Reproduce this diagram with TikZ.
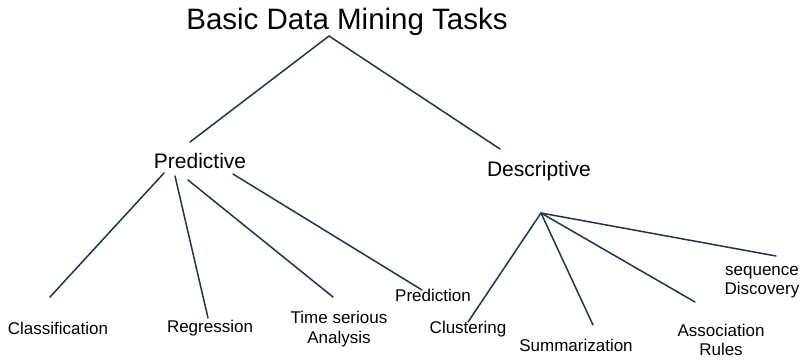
\documentclass[tikz,border=0pt]{standalone}
\usepackage{fontspec}
\setmainfont{Liberation Sans}
\usepackage{xcolor}
\usepackage{tikz}
\definecolor{linenavy}{RGB}{32, 52, 78}

\begin{document}
\begin{tikzpicture}[x=1pt, y=-1pt,
        task/.style = {inner sep=0pt, align=center, font=\fontsize{17}{19.5}\selectfont},
        branch/.style = {color=linenavy, line width=1.5pt, line cap=round}]
        \useasboundingbox (0,0) rectangle (802,360);
        % root and the two groups
        \node[inner sep=0pt, font=\fontsize{29.5}{32}\selectfont] (tasks) at (347, 22) {Basic Data Mining Tasks};
        \node[inner sep=0pt, font=\fontsize{21}{24}\selectfont] (pred) at (200, 161) {Predictive};
        \node[inner sep=0pt, font=\fontsize{21}{24}\selectfont] (desc) at (539, 171) {Descriptive};
        % leaves
        \node[task] (class) at (58, 328) {Classification};
        \node[task] (regr) at (210, 328) {Regression};
        \node[task] (timeser) at (339, 329) {Time serious\\Analysis};
        \node[task] (predict) at (433, 295) {Prediction};
        \node[task] (clust) at (468, 329) {Clustering};
        \node[task] (summ) at (576, 345) {Summarization};
        \node[task] (assoc) at (721, 340) {Association\\Rules};
        \node[task] (seqdisc) at (762, 282) {sequence\\Discovery};
        % line ends
        \coordinate (tasks-foot) at (329, 36);
        \coordinate (pred-head) at (190, 142);
        \coordinate (desc-head) at (500, 149);
        \coordinate (pred-foot1) at (164, 173);
        \coordinate (pred-foot2) at (175, 176);
        \coordinate (pred-foot3) at (188, 180);
        \coordinate (pred-foot4) at (233, 174);
        \coordinate (desc-hub) at (541, 213);
        \coordinate (class-head) at (50, 297);
        \coordinate (regr-head) at (208, 318);
        \coordinate (timeser-head) at (333, 297);
        \coordinate (predict-head) at (422, 290);
        \coordinate (clust-head) at (468, 322);
        \coordinate (summ-head) at (593, 325);
        \coordinate (assoc-head) at (695, 302);
        \coordinate (seqdisc-head) at (776, 256);
        \draw[branch] (tasks-foot) -- (pred-head);
        \draw[branch] (tasks-foot) -- (desc-head);
        \draw[branch] (pred-foot1) -- (class-head);
        \draw[branch] (pred-foot2) -- (regr-head);
        \draw[branch] (pred-foot3) -- (timeser-head);
        \draw[branch] (pred-foot4) -- (predict-head);
        \draw[branch] (desc-hub) -- (clust-head);
        \draw[branch] (desc-hub) -- (summ-head);
        \draw[branch] (desc-hub) -- (assoc-head);
        \draw[branch] (desc-hub) -- (seqdisc-head);
    \end{tikzpicture}
\end{document}
